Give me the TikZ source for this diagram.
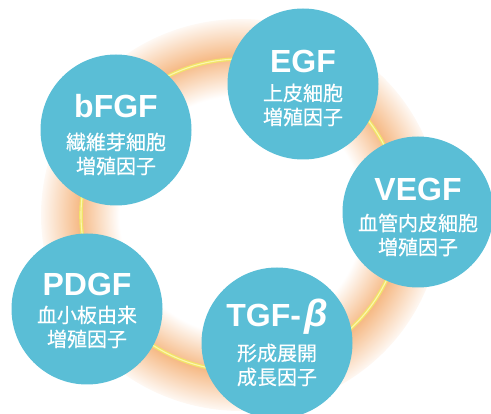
\documentclass[tikz,border=0pt]{standalone}
\usepackage{fontspec}
\setmainfont{Liberation Sans}
\newfontfamily\jp[FakeBold=0.5]{Noto Sans CJK JP}
\definecolor{teal1}{RGB}{90,190,214}
\definecolor{glowc}{RGB}{246,186,134}
\definecolor{ringc}{RGB}{242,228,104}
\definecolor{ringin}{RGB}{252,246,175}
\pgfdeclareradialshading{glow}{\pgfpoint{0bp}{0bp}}{color(0bp)=(white); color(15.2bp)=(white); color(20.2bp)=(glowc); color(25.5bp)=(white); color(50bp)=(white)}
\begin{document}
\begin{tikzpicture}[x=1pt,y=-1pt,
  circ/.style={circle,fill=teal1,minimum size=151pt,inner sep=0pt},
  head/.style={text=white,inner sep=0pt,font=\bfseries\fontsize{32}{32}\selectfont},
  sub/.style={text=white,inner sep=0pt,align=center,font=\jp\fontsize{20}{24}\selectfont}]
\useasboundingbox (0,0) rectangle (491,414);
\begin{scope}
\clip (0,0) rectangle (491,414);
\shade[shading=glow] (241,215) ellipse [x radius=200, y radius=196];
\end{scope}
\draw[ringc, line width=3.6pt] (241,215) ellipse [x radius=160, y radius=156];
\draw[ringin, line width=1.1pt] (241,215) ellipse [x radius=160, y radius=156];
% circles
\node[circ] (egf) at (303,84) {};
\node[circ] (bfgf) at (116,130) {};
\node[circ] (vegf) at (418,212) {};
\node[circ] (pdgf) at (87,309) {};
\node[circ] (tgf) at (277,343) {};
% texts
\node[head] (egf-t) at ([yshift=23pt]egf.center) {EGF};
\node[sub] (egf-s) at ([yshift=-21pt]egf.center) {上皮細胞\\増殖因子};
\node[head] (bfgf-t) at ([yshift=24pt]bfgf.center) {bFGF};
\node[sub] (bfgf-s) at ([yshift=-24pt]bfgf.center) {繊維芽細胞\\増殖因子};
\node[head] (vegf-t) at ([yshift=23pt]vegf.center) {VEGF};
\node[sub] (vegf-s) at ([yshift=-23pt]vegf.center) {血管内皮細胞\\増殖因子};
\node[head] (pdgf-t) at ([yshift=25pt]pdgf.center) {PDGF};
\node[sub] (pdgf-s) at ([yshift=-18pt]pdgf.center) {血小板由来\\増殖因子};
\node[head] (tgf-t) at ([yshift=26pt]tgf.center) {TGF-\hspace{3pt}{\itshape\fontsize{38}{38}\selectfont β}};
\node[sub] (tgf-s) at ([yshift=-22pt]tgf.center) {形成展開\\成長因子};
\end{tikzpicture}
\end{document}
